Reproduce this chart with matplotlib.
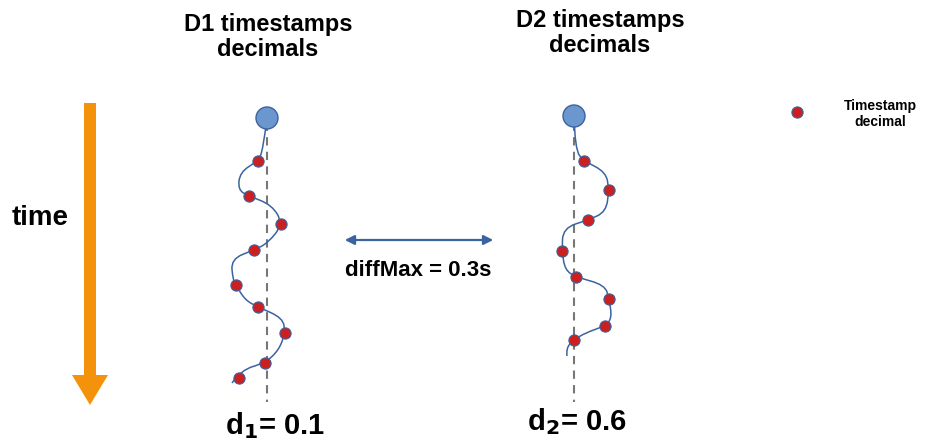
import matplotlib
matplotlib.use("Agg")
import matplotlib.pyplot as plt
import numpy as np
from matplotlib.path import Path
from matplotlib.patches import PathPatch, FancyArrow, FancyArrowPatch, Circle

plt.rcParams["font.family"] = ["Liberation Sans", "DejaVu Sans"]

BLUE = "#3b63a0"
RED = "#cc1f1f"
CIRCLE = "#6b97cf"
ORANGE = "#f5920c"

# pixel coordinates of the reference picture (y grows downward)
d1_x = 267
d1_dots = [(258, 161), (249, 196), (281, 224), (254, 250), (236, 285),
           (258, 307), (285, 333), (265, 363), (239, 378)]
d1_path = [(267, 118), (263, 150), (258, 161), (240, 172), (238, 190), (249, 196),
           (272, 205), (283, 224), (268, 243), (254, 250), (231, 259), (233, 280),
           (236, 285), (245, 300), (258, 307), (283, 318), (285, 333), (279, 350),
           (265, 363), (241, 370), (232, 383)]
d2_x = 574
d2_dots = [(584, 161), (609, 190), (588, 220), (562, 251), (576, 277),
           (609, 299), (605, 326), (574, 340)]
d2_path = [(574, 116), (575, 150), (584, 161), (606, 172), (609, 190), (606, 212),
           (588, 220), (563, 228), (562, 251), (565, 270), (576, 277), (605, 285),
           (609, 299), (612, 318), (605, 326), (585, 333), (574, 340), (566, 348),
           (567, 356)]


def smooth_path(pts):
    pts = np.asarray(pts, float)
    verts = [pts[0]]
    codes = [Path.MOVETO]
    for i in range(1, len(pts) - 1):
        end = pts[-1] if i == len(pts) - 2 else (pts[i] + pts[i + 1]) / 2
        verts += [pts[i], end]
        codes += [Path.CURVE3, Path.CURVE3]
    return Path(verts, codes)


fig = plt.figure(figsize=(9.45, 4.45), dpi=100)
ax = fig.add_axes([0, 0, 1, 1])
ax.set_xlim(0, 945)
ax.set_ylim(445, 0)
ax.axis("off")

ax.add_patch(FancyArrow(90, 103, 0, 302, width=12, head_width=36, head_length=30,
                        length_includes_head=True, color=ORANGE, lw=0))
ax.text(40, 218, "time", fontsize=20, fontweight="bold", ha="center", va="center")

for x, dots, path, big_y in [(d1_x, d1_dots, d1_path, 118), (d2_x, d2_dots, d2_path, 116)]:
    ax.plot([x, x], [108, 402], ls=(0, (4, 3)), color="#777777", lw=1.5, zorder=1)
    ax.add_patch(PathPatch(smooth_path(path), fill=False, ec=BLUE, lw=1.1, zorder=2))
    ax.add_patch(Circle((x, big_y), 11, fc=CIRCLE, ec=BLUE, lw=1, zorder=3))
    dx, dy = zip(*dots)
    ax.scatter(dx, dy, s=65, c=RED, edgecolors=BLUE, linewidths=0.8, zorder=4)

ax.text(268, 37, "D1 timestamps\ndecimals", fontsize=17, fontweight="bold",
        ha="center", va="center", linespacing=1.1)
ax.text(600, 33, "D2 timestamps\ndecimals", fontsize=17, fontweight="bold",
        ha="center", va="center", linespacing=1.1)

ax.add_patch(FancyArrowPatch((342, 240), (496, 240), arrowstyle="<|-|>",
                             mutation_scale=14, color=BLUE, lw=1.6))
ax.text(418, 270, "diffMax = 0.3s", fontsize=16, fontweight="bold", ha="center", va="center")

ax.text(275, 426, r"d$_{\mathbf{1}}$= 0.1", fontsize=21, fontweight="bold", ha="center", va="center")
ax.text(577, 422, r"d$_{\mathbf{2}}$= 0.6", fontsize=21, fontweight="bold", ha="center", va="center")

ax.scatter([797], [112], s=65, c=RED, edgecolors=BLUE, linewidths=0.8)
ax.text(880, 114, "Timestamp\ndecimal", fontsize=10, fontweight="bold",
        ha="center", va="center", linespacing=1.2)

fig.savefig("out.png", dpi=100, facecolor="white")
